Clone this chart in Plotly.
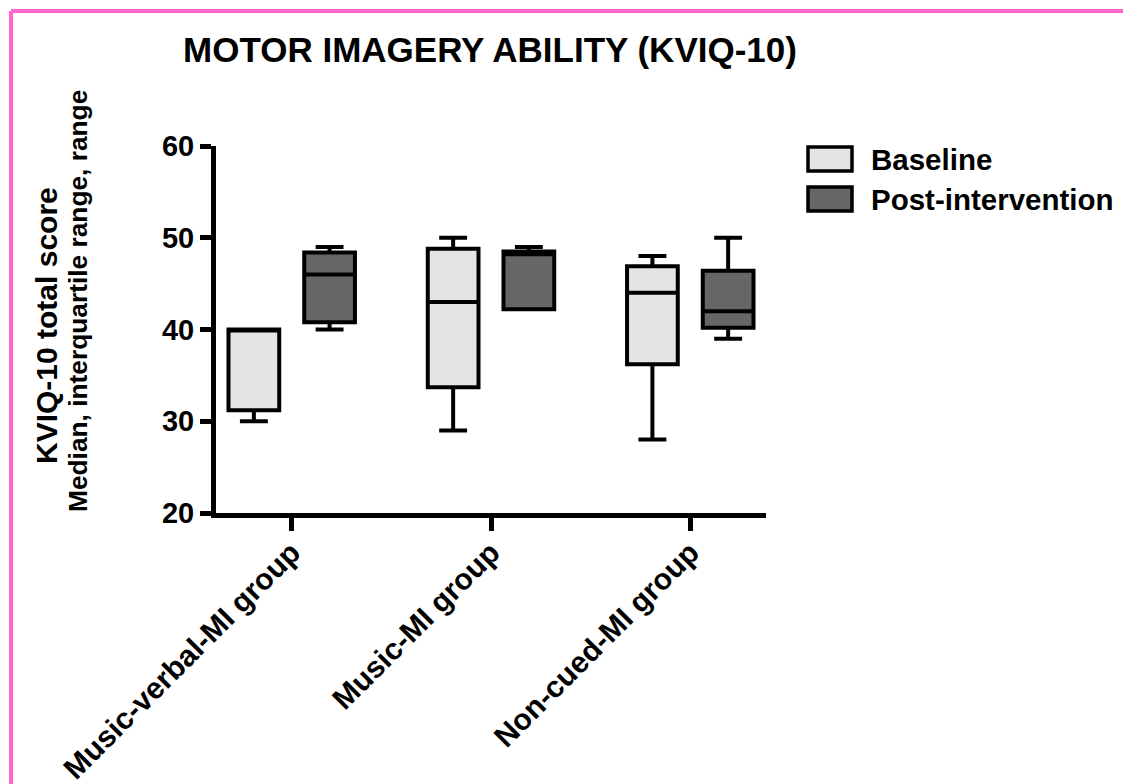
import plotly.graph_objects as go

# Groups and series
groups = ["Music-verbal-MI group", "Music-MI group", "Non-cued-MI group"]
series = ["Baseline", "Post-intervention"]

# Five-number summaries (KVIQ-10 total score) per group
baseline_min = [30, 29, 28]
baseline_q1 = [31.2, 33.7, 36.2]
baseline_median = [40, 43, 44]
baseline_q3 = [40, 48.8, 46.9]
baseline_max = [40, 50, 48]

post_min = [40, 42.2, 39]
post_q1 = [40.8, 42.2, 40.2]
post_median = [46, 48.2, 42]
post_q3 = [48.4, 48.5, 46.4]
post_max = [49, 49, 50]

y_ticks = [20, 30, 40, 50, 60]

FONT = "Liberation Sans, Arial, Helvetica, sans-serif"
fills = {"Baseline": "#e4e4e4", "Post-intervention": "#666666"}

W, H = 1123, 784
ML, MR, MT, MB = 216, 357, 146, 271
PW, PH = W - ML - MR, H - MT - MB


def px_x(px):
    return (px - ML) / PW


def px_y(py):
    return (H - MB - py) / PH


fig = go.Figure()
summaries = {
    "Baseline": (baseline_min, baseline_q1, baseline_median, baseline_q3, baseline_max),
    "Post-intervention": (post_min, post_q1, post_median, post_q3, post_max),
}
for name in series:
    lo, q1, med, q3, hi = summaries[name]
    fig.add_trace(go.Box(
        name=name,
        x=groups,
        lowerfence=lo,
        q1=q1,
        median=med,
        q3=q3,
        upperfence=hi,
        fillcolor=fills[name],
        line=dict(color="black", width=4),
        whiskerwidth=0.55,
        boxpoints=False,
        showlegend=False,
    ))

shapes = []
# pink frame (top and left edges)
pink = "#ff66cc"
shapes.append(dict(type="line", xref="paper", yref="paper",
                   x0=px_x(11), x1=px_x(1130), y0=px_y(11), y1=px_y(11),
                   line=dict(color=pink, width=4), layer="above"))
shapes.append(dict(type="line", xref="paper", yref="paper",
                   x0=px_x(11), x1=px_x(11), y0=px_y(11), y1=px_y(790),
                   line=dict(color=pink, width=4), layer="above"))

annotations = []
# legend swatches and labels
for i, name in enumerate(series):
    top = 147 + 40 * i
    shapes.append(dict(type="rect", xref="paper", yref="paper",
                       x0=px_x(808), x1=px_x(852), y0=px_y(top + 24), y1=px_y(top),
                       fillcolor=fills[name], line=dict(color="black", width=3.5)))
    annotations.append(dict(text=name, xref="paper", yref="paper",
                            x=px_x(869), y=px_y(top + 12), xanchor="left", yanchor="middle",
                            showarrow=False,
                            font=dict(family=FONT, size=29.5, color="black", weight="bold")))

# y-axis title, two lines
annotations.append(dict(text="KVIQ-10 total score", xref="paper", yref="paper",
                        x=px_x(46), y=px_y(326), xanchor="center", yanchor="middle",
                        textangle=-90, showarrow=False,
                        font=dict(family=FONT, size=30, color="black", weight="bold")))
annotations.append(dict(text="Median, interquartile range, range", xref="paper", yref="paper",
                        x=px_x(78), y=px_y(301), xanchor="center", yanchor="middle",
                        textangle=-90, showarrow=False,
                        font=dict(family=FONT, size=26.3, color="black", weight="bold")))

fig.update_layout(
    width=W, height=H,
    margin=dict(l=ML, r=MR, t=MT, b=MB, autoexpand=False),
    paper_bgcolor="white", plot_bgcolor="white",
    boxmode="group", boxgap=0.24, boxgroupgap=0.33,
    title=dict(text="MOTOR IMAGERY ABILITY (KVIQ-10)", xref="container", yref="container",
               x=490 / W, y=1 - 50 / H, xanchor="center", yanchor="middle",
               font=dict(family=FONT, size=35, color="black", weight="bold")),
    shapes=shapes,
    annotations=annotations,
    xaxis=dict(
        type="category", range=[-0.38, 2.38], automargin=False,
        showline=True, linecolor="black", linewidth=5,
        ticks="outside", ticklen=13, tickwidth=5, tickcolor="black",
        tickangle=-45, showgrid=False, zeroline=False, ticklabelstandoff=-8,
        tickfont=dict(family=FONT, size=30, color="black", weight="bold"),
    ),
    yaxis=dict(
        range=[20, 60], tickvals=y_ticks, automargin=False,
        showline=True, linecolor="black", linewidth=5,
        ticks="outside", ticklen=11, tickwidth=5, tickcolor="black",
        showgrid=False, zeroline=False,
        tickfont=dict(family=FONT, size=29, color="black", weight="bold"),
    ),
)

fig.write_html("out.html")
